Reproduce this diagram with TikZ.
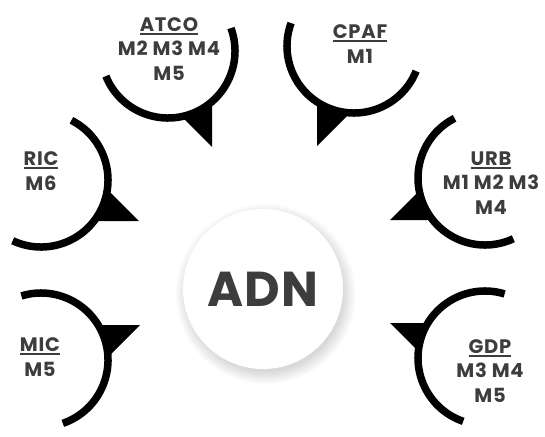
\documentclass[tikz,border=0pt]{standalone}
\usepackage{fontspec}
\setmainfont{Poppins}
\usetikzlibrary{shadows}
\definecolor{labelgray}{HTML}{3D3D3D}
\newcommand{\hdword}[1]{\setbox0=\hbox{#1}\rlap{\rule[-3.4pt]{\wd0}{1.6pt}}\box0}

\begin{document}
\begin{tikzpicture}[x=1pt, y=1pt,
    arcline/.style={line width=7.5pt},
    tail/.style={fill=black},
    lbl/.style={align=center, inner sep=0pt, text=labelgray,
      font=\fontsize{19.5}{24.5}\selectfont\bfseries\addfontfeatures{LetterSpace=4}}]

    \path[fill=white] (0,0) rectangle (545,-436);

    % centres of the six arcs
    \coordinate (atco-c) at (168,-51);
    \coordinate (cpaf-c) at (354,-46);
    \coordinate (ric-c) at (41,-180);
    \coordinate (urb-c) at (485,-178);
    \coordinate (mic-c) at (41,-360);
    \coordinate (gdp-c) at (485,-358);

    % the core
    \node[circle, minimum size=160pt, fill=white, text=labelgray,
      font=\fontsize{49}{49}\selectfont\bfseries\addfontfeatures{LetterSpace=2},
      circular drop shadow={shadow xshift=2pt, shadow yshift=-4pt,
        shadow scale=1.13, opacity=0.15, fill=black}] (adn) at (263,-289) {ADN};

    % arcs
    \draw[arcline] (atco-c) ++(202:67) arc[start angle=202, end angle=380, radius=67];
    \draw[arcline] (cpaf-c) ++(160:67) arc[start angle=160, end angle=338, radius=67];
    \draw[arcline] (ric-c) ++(-115:67) arc[start angle=-115, end angle=63, radius=67];
    \draw[arcline] (urb-c) ++(117:67) arc[start angle=117, end angle=295, radius=67];
    \draw[arcline] (mic-c) ++(-71:67) arc[start angle=-71, end angle=107, radius=67];
    \draw[arcline] (gdp-c) ++(73:67) arc[start angle=73, end angle=251, radius=67];

    % tails pointing at the core
    \fill[tail] (212,-147) -- (212,-101) -- (182,-117) -- cycle;
    \fill[tail] (317,-146) -- (317,-102) -- (350,-113) -- cycle;
    \fill[tail] (139,-221) -- (94,-221) -- (107,-189) -- cycle;
    \fill[tail] (390,-220) -- (433,-220) -- (419,-191) -- cycle;
    \fill[tail] (140,-325) -- (98,-325) -- (108,-357) -- cycle;
    \fill[tail] (390,-323) -- (428,-323) -- (418,-351) -- cycle;

    % labels
    \node[lbl] (atco) at (169,-49) {\hdword{ATCO}\\M2 M3 M4\\M5};
    \node[lbl] (cpaf) at (360,-44) {\hdword{CPAF}\\M1};
    \node[lbl] (ric) at (41,-171) {\hdword{RIC}\\M6};
    \node[lbl] (urb) at (491,-183) {\hdword{URB}\\M1 M2 M3\\M4};
    \node[lbl] (mic) at (40,-357) {\hdword{MIC}\\M5};
    \node[lbl] (gdp) at (490,-371) {\hdword{GDP}\\M3 M4\\M5};

\end{tikzpicture}
\end{document}
